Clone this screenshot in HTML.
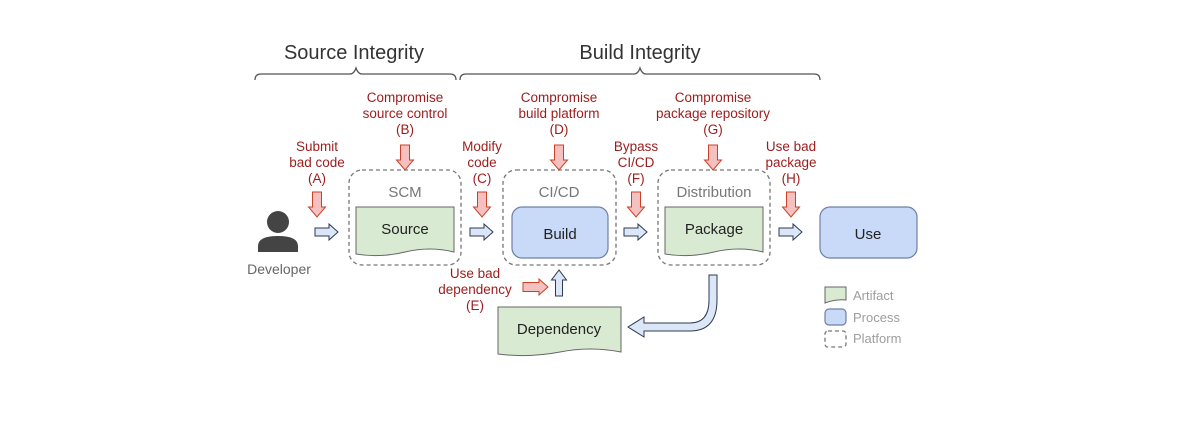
<!DOCTYPE html>
<html><head><meta charset="utf-8"><style>
html,body{margin:0;padding:0;background:#fff;}
svg{display:block;font-family:"Liberation Sans",Arial,sans-serif;}
.r{fill:#9c1c1c;font-size:13.5px;text-anchor:middle;}
.n{fill:#222;font-size:15px;text-anchor:middle;}
.g{fill:#777;font-size:15px;text-anchor:middle;}
.lg{fill:#9e9e9e;font-size:13px;}
.plat{fill:none;stroke:#777;stroke-width:1.3;stroke-dasharray:4 3;}
.doc{fill:#d9ead3;stroke:#666;stroke-width:1;}
.proc{fill:#c9daf8;stroke:#6d7fa7;stroke-width:1.2;}
.ra{fill:#f4c0c0;stroke:#cc4125;stroke-width:1;}
.ba{fill:#dbe7f7;stroke:#2d3a55;stroke-width:1;}
</style></head><body>
<svg width="1199" height="421" viewBox="0 0 1199 421">
<defs>
<g id="rd"><path d="M-4.5,0 H4.5 V15 H8.5 L0,25 L-8.5,15 H-4.5 Z" class="ra"/></g>
<g id="bh"><path d="M0,-4 H14 V-8 L23,0 L14,8 V4 H0 Z" class="ba"/></g>
</defs>
<text x="354" y="59" style="font-size:20px;fill:#333;text-anchor:middle">Source Integrity</text>
<text x="640" y="59" style="font-size:20px;fill:#333;text-anchor:middle">Build Integrity</text>
<path d="M255,80 Q255,74 261,74 H350 Q354,74 356,68 Q358,74 362,74 H450 Q456,74 456,80" fill="none" stroke="#555" stroke-width="1.3"/>
<path d="M460,80 Q460,74 466,74 H634 Q638,74 640,68 Q642,74 646,74 H814 Q820,74 820,80" fill="none" stroke="#555" stroke-width="1.3"/>

<rect x="349" y="170" width="112" height="95" rx="13" class="plat"/>
<rect x="503" y="170" width="113" height="95" rx="13" class="plat"/>
<rect x="658" y="170" width="112" height="95" rx="13" class="plat"/>
<text x="405" y="197" class="g">SCM</text>
<text x="559" y="197" class="g">CI/CD</text>
<text x="714" y="197" class="g">Distribution</text>

<path d="M356,207 H454 V252 Q430,246 405,252 Q380,258 356,254 Z" class="doc"/>
<text x="405" y="234" class="n">Source</text>
<rect x="512" y="207" width="96" height="51" rx="10" class="proc"/>
<text x="560" y="239" class="n">Build</text>
<path d="M665,207 H763 V252 Q739,246 714,252 Q689,258 665,254 Z" class="doc"/>
<text x="714" y="234" class="n">Package</text>
<rect x="820" y="207" width="97" height="51" rx="10" class="proc"/>
<text x="868" y="239" class="n">Use</text>
<path d="M498,307 H621 V352 Q590,346 560,352 Q528,358 498,354 Z" class="doc"/>
<text x="559" y="334" class="n">Dependency</text>

<circle cx="278" cy="222" r="11" fill="#444"/>
<path d="M258,252 V246 Q258,236 278,236 Q298,236 298,246 V252 Z" fill="#444"/>
<text x="279" y="274" style="font-size:14px;fill:#666;text-anchor:middle">Developer</text>

<use href="#bh" x="315" y="232"/>
<use href="#bh" x="470" y="232"/>
<use href="#bh" x="624" y="232"/>
<use href="#bh" x="779" y="232"/>
<path d="M555.5,296 V280 H551.5 L559,270 L566.5,280 H562.5 V296 Z" class="ba"/>
<path d="M709,275 H717 V300 Q717,331 690,331 H644 V337 L628,327 L644,317 V323 H690 Q709,323 709,300 Z" class="ba"/>

<use href="#rd" x="317" y="192"/>
<use href="#rd" x="405" y="145"/>
<use href="#rd" x="482" y="192"/>
<use href="#rd" x="559" y="145"/>
<use href="#rd" x="636" y="192"/>
<use href="#rd" x="713" y="145"/>
<use href="#rd" x="791" y="192"/>
<path d="M523,282.5 H539 V279 L548,287 L539,295 V291.5 H523 Z" class="ra"/>

<text class="r"><tspan x="317" y="151">Submit</tspan><tspan x="317" y="167">bad code</tspan><tspan x="317" y="183">(A)</tspan></text>
<text class="r"><tspan x="405" y="102">Compromise</tspan><tspan x="405" y="118">source control</tspan><tspan x="405" y="134">(B)</tspan></text>
<text class="r"><tspan x="482" y="151">Modify</tspan><tspan x="482" y="167">code</tspan><tspan x="482" y="183">(C)</tspan></text>
<text class="r"><tspan x="559" y="102">Compromise</tspan><tspan x="559" y="118">build platform</tspan><tspan x="559" y="134">(D)</tspan></text>
<text class="r"><tspan x="636" y="151">Bypass</tspan><tspan x="636" y="167">CI/CD</tspan><tspan x="636" y="183">(F)</tspan></text>
<text class="r"><tspan x="713" y="102">Compromise</tspan><tspan x="713" y="118">package repository</tspan><tspan x="713" y="134">(G)</tspan></text>
<text class="r"><tspan x="791" y="151">Use bad</tspan><tspan x="791" y="167">package</tspan><tspan x="791" y="183">(H)</tspan></text>
<text class="r"><tspan x="475" y="278">Use bad</tspan><tspan x="475" y="294">dependency</tspan><tspan x="475" y="310">(E)</tspan></text>

<path d="M825,287 H846 V300 Q836,299 825,303 Z" class="doc"/>
<rect x="825" y="309" width="21" height="16" rx="4" class="proc"/>
<rect x="825" y="331" width="21" height="16" rx="3" class="plat"/>
<text x="853" y="300" class="lg">Artifact</text>
<text x="853" y="322" class="lg">Process</text>
<text x="853" y="343" class="lg">Platform</text>
</svg>
</body></html>
